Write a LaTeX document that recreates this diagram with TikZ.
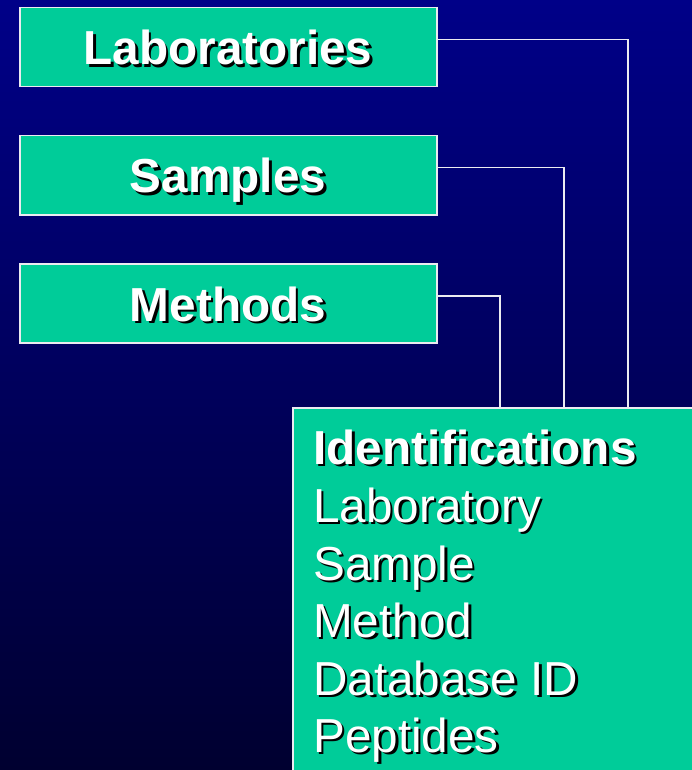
\documentclass[tikz,border=0pt]{standalone}
\usepackage{fontspec}
\setmainfont{Liberation Sans}
\definecolor{bgtop}{RGB}{0,0,136}
\definecolor{bgbot}{RGB}{0,0,48}
\definecolor{teal}{RGB}{0,204,153}
\definecolor{edge}{RGB}{235,235,240}
\newcommand\shd[1]{\leavevmode\rlap{\kern2.6pt\raisebox{-2.6pt}{\textcolor{black}{#1}}}#1}
\tikzset{
  box/.style={draw=edge, line width=1.5pt, fill=teal, inner sep=0pt},
  wire/.style={draw=edge, line width=1.5pt},
  head/.style={text=white, font=\fontsize{47.7}{48}\selectfont\bfseries, inner sep=0pt},
  item/.style={text=white, font=\fontsize{47.7}{48}\selectfont, inner sep=0pt, anchor=base west},
}
\begin{document}
\begin{tikzpicture}[x=1pt,y=-1pt]
\useasboundingbox (0,0) rectangle (692,770);
\clip (0,0) rectangle (692,770);
\shade[top color=bgtop, bottom color=bgbot] (0,0) rectangle (692,770);
% boxes
\node[box, minimum width=417pt, minimum height=79pt, anchor=north west] (lab) at (19,7) {};
\node[box, minimum width=417pt, minimum height=79pt, anchor=north west] (smp) at (19,135) {};
\node[box, minimum width=417pt, minimum height=79pt, anchor=north west] (mth) at (19,263) {};
\node[box, minimum width=430pt, minimum height=400pt, anchor=north west] (ident) at (292,407) {};
% connectors
\draw[wire] ([yshift=7.5pt]lab.east) -| ([xshift=336pt]ident.north west);
\draw[wire] ([yshift=7.5pt]smp.east) -| ([xshift=272pt]ident.north west);
\draw[wire] ([yshift=7.5pt]mth.east) -| ([xshift=208pt]ident.north west);
% box labels
\node[head, anchor=base] (labt) at (228,65) {\shd{Laboratories}};
\node[head, anchor=base] (smpt) at (228,193) {\shd{Samples}};
\node[head, anchor=base] (mtht) at (228,321) {\shd{Methods}};
% identification list
\node[item, font=\fontsize{47.7}{48}\selectfont\bfseries] (i0) at (313,464) {\shd{Identifications}};
\node[item] (i1) at (313,522) {\shd{Laboratory}};
\node[item] (i2) at (313,580) {\shd{Sample}};
\node[item] (i3) at (313,637) {\shd{Method}};
\node[item] (i4) at (313,695) {\shd{Database ID}};
\node[item] (i5) at (313,752) {\shd{Peptides}};
\end{tikzpicture}
\end{document}
